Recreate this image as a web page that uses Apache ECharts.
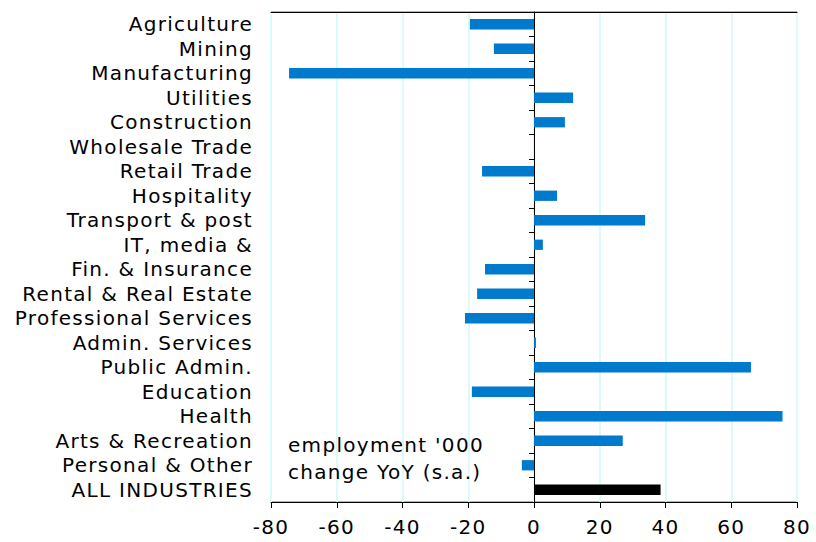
<!DOCTYPE html>
<html>
<head>
<meta charset="utf-8">
<script src="https://cdn.jsdelivr.net/npm/echarts@6/dist/echarts.min.js"></script>
<style>
  html, body { margin: 0; padding: 0; background: #fff; }
  #main { width: 816px; height: 542px; }
  #main text { letter-spacing: 1.3px; }
</style>
</head>
<body>
<div id="main"></div>
<script>
// categories top to bottom
var industries = ['Agriculture', 'Mining', 'Manufacturing', 'Utilities', 'Construction',
  'Wholesale Trade', 'Retail Trade', 'Hospitality', 'Transport & post', 'IT, media &',
  'Fin. & Insurance', 'Rental & Real Estate', 'Professional Services', 'Admin. Services',
  'Public Admin.', 'Education', 'Health', 'Arts & Recreation', 'Personal & Other', 'ALL INDUSTRIES'];
// employment '000 change YoY
var changeYoY = [-19.5, -12.2, -74.5, 11.9, 9.4, 0, -15.8, 7, 33.8, 2.7,
  -14.9, -17.3, -21, 0.6, 66, -18.9, 75.6, 27, -3.7, 38.5];
var xTicks = [-80, 80, 20];

var font = 'DejaVu Sans';
var chart = echarts.init(document.getElementById('main'), null, { renderer: 'svg' });

var barData = changeYoY.map(function (v, i) {
  return {
    value: v,
    itemStyle: { color: industries[i] === 'ALL INDUSTRIES' ? '#000000' : '#007acc' }
  };
});

chart.setOption({
  animation: false,
  grid: {
    left: 271, right: 19, top: 12, bottom: 40,
    show: true, borderColor: '#666', borderWidth: 1
  },
  xAxis: [{
    type: 'value',
    min: xTicks[0], max: xTicks[1], interval: xTicks[2],
    axisLine: { show: true, onZero: false, lineStyle: { color: '#000' } },
    axisTick: { show: true, length: 6, lineStyle: { color: '#000' } },
    axisLabel: { fontFamily: font, fontSize: 20, color: '#000', margin: 15 },
    splitLine: { show: true, lineStyle: { color: '#dcfafa', width: 2 } }
  }, {
    type: 'value', position: 'top',
    min: xTicks[0], max: xTicks[1], interval: xTicks[2],
    axisLine: { show: true, onZero: false, lineStyle: { color: '#000' } },
    axisTick: { show: false }, axisLabel: { show: false }, splitLine: { show: false }
  }],
  yAxis: [{
    type: 'category',
    inverse: true,
    data: industries,
    axisLine: { show: false, onZero: false },
    axisTick: { show: false },
    axisLabel: { interval: 0, fontFamily: font, fontSize: 20, color: '#000', margin: 18 }
  }, {
    type: 'category',
    inverse: true,
    position: 'left',
    data: industries,
    axisLine: { show: true, onZero: true, lineStyle: { color: '#000' } },
    axisTick: { show: true, interval: 0, length: 5, lineStyle: { color: '#000' } },
    axisLabel: { show: false }
  }],
  series: [{
    type: 'bar',
    yAxisIndex: 0,
    barWidth: '42%',
    data: barData
  }],
  graphic: [{
    type: 'text',
    left: 288, top: 431,
    z: 100,
    style: {
      text: "employment '000\nchange YoY (s.a.)",
      font: '20px "DejaVu Sans"',
      fill: '#000',
      lineHeight: 27
    }
  }]
});
</script>
</body>
</html>
